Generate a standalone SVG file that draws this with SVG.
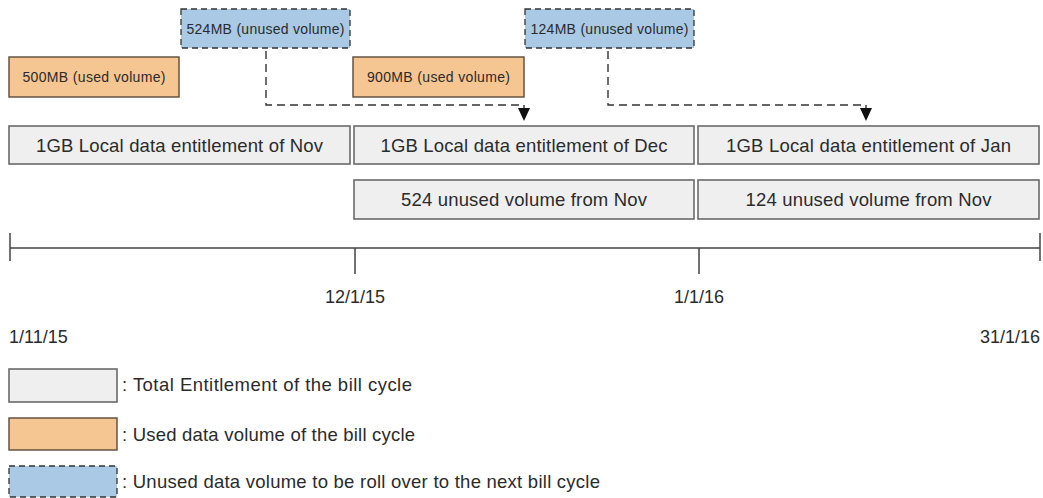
<svg xmlns="http://www.w3.org/2000/svg" width="1043" height="498" viewBox="0 0 1043 498">
<style>
text{font-family:"Liberation Sans","DejaVu Sans",sans-serif;fill:#2b2b2b}
.ent{fill:#efefef;stroke:#6a6a6a;stroke-width:1.6}
.used{fill:#f5c592;stroke:#5a4a3a;stroke-width:1.4}
.unused{fill:#a9c9e4;stroke:#333;stroke-width:1.3;stroke-dasharray:6 4}
.big{font-size:18.5px;text-anchor:middle}
.small{font-size:14px;text-anchor:middle}
.date{font-size:18px}
.leg{font-size:18.5px}
.conn{fill:none;stroke:#333;stroke-width:1.4;stroke-dasharray:8 5}
.axis{stroke:#444;stroke-width:1.5;fill:none}
</style>
<g id="connectors">
<path class="conn" d="M266,51 V105 H524 V108"/>
<path d="M518,108 L530,108 L524,121 Z" fill="#111"/>
<path class="conn" d="M608,51 V105 H866 V108"/>
<path d="M860,108 L872,108 L866,121 Z" fill="#111"/>
</g>
<g id="unused-nov"><rect class="unused" x="181" y="9" width="169" height="39"/><text class="small" x="265.5" y="34" textLength="158">524MB (unused volume)</text></g>
<g id="used-nov"><rect class="used" x="9" y="57" width="170" height="40"/><text class="small" x="94" y="82" textLength="143">500MB (used volume)</text></g>
<g id="used-dec"><rect class="used" x="353" y="57" width="171" height="40"/><text class="small" x="438.5" y="82" textLength="143">900MB (used volume)</text></g>
<g id="unused-dec"><rect class="unused" x="525" y="9" width="169" height="39"/><text class="small" x="609.5" y="34" textLength="158">124MB (unused volume)</text></g>
<g id="ent-nov"><rect class="ent" x="9" y="126" width="341" height="38"/><text class="big" x="179.5" y="152" textLength="287">1GB Local data entitlement of Nov</text></g>
<g id="ent-dec"><rect class="ent" x="354" y="126" width="340" height="38"/><text class="big" x="524" y="152" textLength="287">1GB Local data entitlement of Dec</text></g>
<g id="ent-jan"><rect class="ent" x="698" y="126" width="341" height="38"/><text class="big" x="868.5" y="152" textLength="285">1GB Local data entitlement of Jan</text></g>
<g id="roll-dec"><rect class="ent" x="354" y="180" width="340" height="39"/><text class="big" x="524" y="206" textLength="246">524 unused volume from Nov</text></g>
<g id="roll-jan"><rect class="ent" x="698" y="180" width="341" height="39"/><text class="big" x="868.5" y="206" textLength="246">124 unused volume from Nov</text></g>
<g id="timeline">
<path class="axis" d="M10,248 H1040 M10,233 V261 M1040,233 V261 M355,248 V274 M699,248 V274"/>
<text class="date" x="355" y="303" text-anchor="middle">12/1/15</text>
<text class="date" x="699" y="303" text-anchor="middle">1/1/16</text>
<text class="date" x="9" y="343">1/11/15</text>
<text class="date" x="1040" y="343" text-anchor="end">31/1/16</text>
</g>
<g id="legend">
<rect class="ent" x="9" y="369" width="108" height="33"/>
<text class="leg" x="122" y="391" textLength="290">: Total Entitlement of the bill cycle</text>
<rect class="used" x="9" y="418" width="108" height="32"/>
<text class="leg" x="122" y="441" textLength="293">: Used data volume of the bill cycle</text>
<rect class="unused" x="9" y="466" width="108" height="31"/>
<text class="leg" x="122" y="488" textLength="478">: Unused data volume to be roll over to the next bill cycle</text>
</g>
</svg>
